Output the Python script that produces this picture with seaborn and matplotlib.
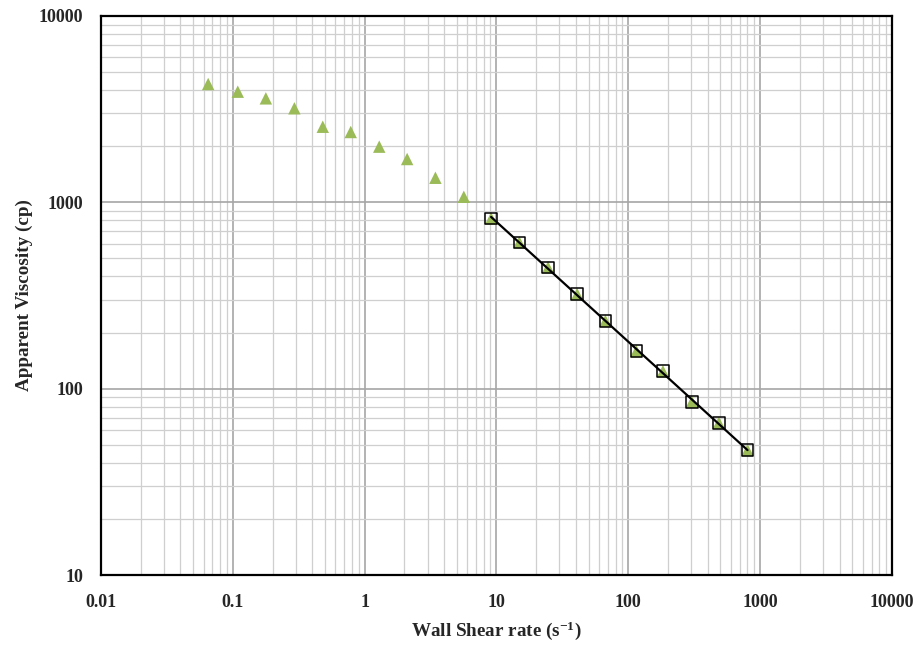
import numpy as np
import pandas as pd
import matplotlib
matplotlib.use("Agg")
import matplotlib.pyplot as plt
import seaborn as sns
from matplotlib.ticker import FixedLocator, LogLocator, NullFormatter

# Measured flow curve: apparent viscosity vs wall shear rate
low_shear = [0.065, 0.109, 0.178, 0.293, 0.481, 0.784, 1.29, 2.10, 3.44, 5.65]
low_visc = [4315, 3925, 3615, 3197, 2545, 2385, 1990, 1708, 1355, 1071]

# Power-law region (fitted)
pl_shear = [9.10, 14.9, 24.6, 40.9, 67.0, 115, 183, 303, 486, 802]
pl_visc = [820, 610, 448, 322, 231, 159, 124, 85, 65.6, 46.8]

x_ticks = [0.01, 0.1, 1, 10, 100, 1000, 10000]
x_tick_labels = ["0.01", "0.1", "1", "10", "100", "1000", "10000"]
y_ticks = [10, 100, 1000, 10000]
y_tick_labels = ["10", "100", "1000", "10000"]

sns.set_theme(style="white")
plt.rcParams["font.family"] = ["Liberation Serif", "DejaVu Serif"]
plt.rcParams["font.weight"] = "bold"
plt.rcParams["mathtext.fontset"] = "custom"
plt.rcParams["mathtext.rm"] = "Liberation Serif:bold"
plt.rcParams["mathtext.bf"] = "Liberation Serif:bold"
plt.rcParams["mathtext.it"] = "Liberation Serif:bold"

all_df = pd.DataFrame({"shear": low_shear + pl_shear, "visc": low_visc + pl_visc})
pl_df = pd.DataFrame({"shear": pl_shear, "visc": pl_visc})

# Power-law fit through the high-shear points
k_slope, k_int = np.polyfit(np.log10(pl_shear), np.log10(pl_visc), 1)
fit_x = np.array([pl_shear[0], pl_shear[-1]])
fit_df = pd.DataFrame({"shear": fit_x, "visc": 10 ** (k_int + k_slope * np.log10(fit_x))})

fig, ax = plt.subplots(figsize=(9.19, 6.49), dpi=100)
fig.subplots_adjust(left=101 / 919, right=892 / 919, top=1 - 16 / 649, bottom=1 - 575 / 649)

ax.set_xscale("log")
ax.set_yscale("log")
ax.set_xlim(0.01, 10000)
ax.set_ylim(10, 10000)

# gridlines
ax.xaxis.set_minor_locator(LogLocator(base=10, subs=np.arange(2, 10)))
ax.yaxis.set_minor_locator(LogLocator(base=10, subs=np.arange(2, 10)))
ax.xaxis.set_minor_formatter(NullFormatter())
ax.yaxis.set_minor_formatter(NullFormatter())
ax.grid(which="major", color="#a6a6a6", linewidth=1.2, zorder=0)
ax.grid(which="minor", color="#cfcfcf", linewidth=0.9, zorder=0)
ax.set_axisbelow(True)

sns.scatterplot(data=all_df, x="shear", y="visc", marker="^", s=80,
                color="#9bbb59", edgecolor="none", ax=ax, zorder=3)
sns.lineplot(data=fit_df, x="shear", y="visc", color="black", linewidth=1.6,
             ax=ax, zorder=4)
sns.scatterplot(data=pl_df, x="shear", y="visc", marker="s", s=70,
                facecolor="none", edgecolor="black", linewidth=1.1, ax=ax, zorder=5)

ax.xaxis.set_major_locator(FixedLocator(x_ticks))
ax.yaxis.set_major_locator(FixedLocator(y_ticks))
ax.set_xticklabels(x_tick_labels, fontsize=13, fontweight="bold")
ax.set_yticklabels(y_tick_labels, fontsize=13, fontweight="bold")
ax.tick_params(axis="both", which="major", direction="out", length=5, width=1.2,
               color="black")
ax.tick_params(axis="x", which="major", pad=9)
ax.tick_params(axis="y", which="major", pad=8)
ax.tick_params(axis="both", which="minor", length=0)

for sp in ax.spines.values():
    sp.set_color("black")
    sp.set_linewidth(1.6)

ax.set_xlabel("Wall Shear rate (s$^{-1}$)", fontsize=13.8, fontweight="bold", labelpad=6)
ax.set_ylabel("Apparent Viscosity (cp)", fontsize=13.8, fontweight="bold", labelpad=4)

fig.savefig("out.png", dpi=100)
